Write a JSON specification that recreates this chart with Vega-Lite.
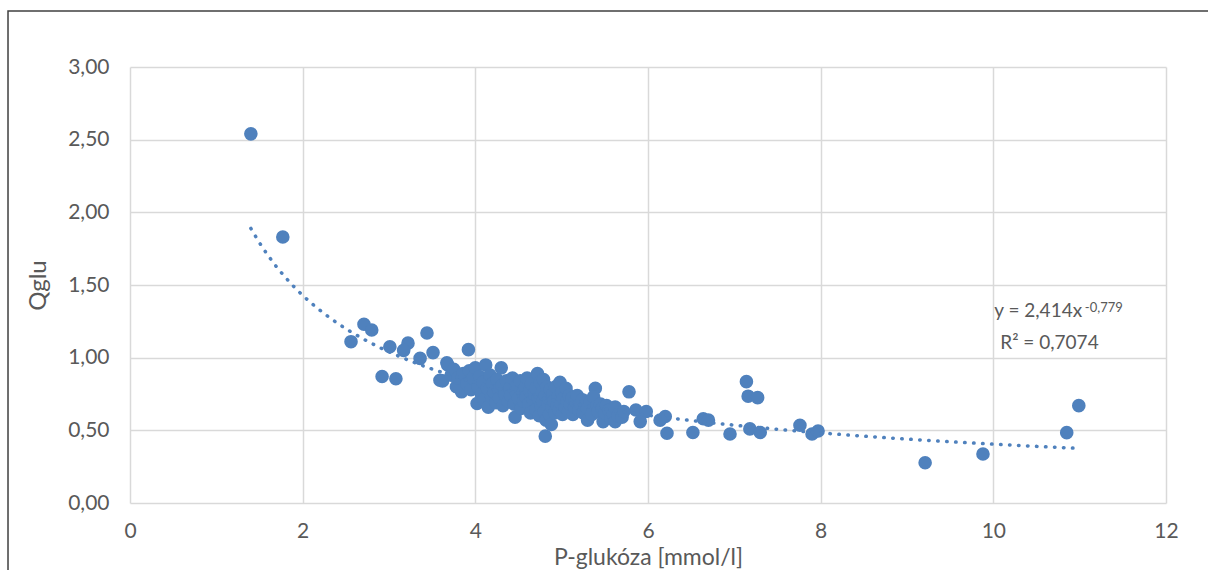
{
  "$schema": "https://vega.github.io/schema/vega-lite/v6.json",
  "width": 1036,
  "height": 436,
  "autosize": {"type": "none"},
  "padding": {"left": 130, "top": 67, "right": 42, "bottom": 67},
  "background": "white",
  "config": {
    "font": "Lato",
    "view": {"stroke": null},
    "axis": {"labelFont": "Lato", "titleFont": "Lato", "labelColor": "#595959", "titleColor": "#595959", "titleFontWeight": "normal", "gridColor": "#d9d9d9", "gridWidth": 1.5, "domain": false, "ticks": false}
  },
  "datasets": {
    "pts": [
      {"glukoza": 1.40, "qglu": 2.54}, {"glukoza": 1.77, "qglu": 1.83}, {"glukoza": 2.56, "qglu": 1.11}, {"glukoza": 2.71, "qglu": 1.23},
      {"glukoza": 2.80, "qglu": 1.19}, {"glukoza": 2.92, "qglu": 0.87}, {"glukoza": 3.08, "qglu": 0.855}, {"glukoza": 3.01, "qglu": 1.075},
      {"glukoza": 3.22, "qglu": 1.10}, {"glukoza": 3.17, "qglu": 1.05}, {"glukoza": 3.44, "qglu": 1.17}, {"glukoza": 3.36, "qglu": 0.995},
      {"glukoza": 3.51, "qglu": 1.035}, {"glukoza": 3.92, "qglu": 1.055}, {"glukoza": 3.67, "qglu": 0.965}, {"glukoza": 3.59, "qglu": 0.845},
      {"glukoza": 3.84, "qglu": 0.765}, {"glukoza": 4.02, "qglu": 0.685}, {"glukoza": 4.46, "qglu": 0.59}, {"glukoza": 4.81, "qglu": 0.46},
      {"glukoza": 5.78, "qglu": 0.765}, {"glukoza": 5.86, "qglu": 0.64}, {"glukoza": 5.98, "qglu": 0.63}, {"glukoza": 5.91, "qglu": 0.56},
      {"glukoza": 6.20, "qglu": 0.595}, {"glukoza": 6.14, "qglu": 0.57}, {"glukoza": 6.22, "qglu": 0.48}, {"glukoza": 6.52, "qglu": 0.485},
      {"glukoza": 6.64, "qglu": 0.58}, {"glukoza": 6.70, "qglu": 0.57}, {"glukoza": 6.95, "qglu": 0.475}, {"glukoza": 7.14, "qglu": 0.835},
      {"glukoza": 7.16, "qglu": 0.735}, {"glukoza": 7.27, "qglu": 0.725}, {"glukoza": 7.18, "qglu": 0.51}, {"glukoza": 7.30, "qglu": 0.485},
      {"glukoza": 7.76, "qglu": 0.535}, {"glukoza": 7.90, "qglu": 0.475}, {"glukoza": 7.97, "qglu": 0.495}, {"glukoza": 9.21, "qglu": 0.277},
      {"glukoza": 9.88, "qglu": 0.337}, {"glukoza": 10.85, "qglu": 0.484}, {"glukoza": 10.99, "qglu": 0.67}, {"glukoza": 5.39, "qglu": 0.79},
      {"glukoza": 3.62, "qglu": 0.84}, {"glukoza": 3.68, "qglu": 0.95}, {"glukoza": 3.72, "qglu": 0.88}, {"glukoza": 3.75, "qglu": 0.92},
      {"glukoza": 3.78, "qglu": 0.80}, {"glukoza": 3.80, "qglu": 0.86}, {"glukoza": 3.86, "qglu": 0.89}, {"glukoza": 3.90, "qglu": 0.82},
      {"glukoza": 3.93, "qglu": 0.91}, {"glukoza": 3.95, "qglu": 0.78}, {"glukoza": 3.97, "qglu": 0.86}, {"glukoza": 4.00, "qglu": 0.93},
      {"glukoza": 4.03, "qglu": 0.80}, {"glukoza": 4.05, "qglu": 0.87}, {"glukoza": 4.07, "qglu": 0.75}, {"glukoza": 4.09, "qglu": 0.83},
      {"glukoza": 4.10, "qglu": 0.71}, {"glukoza": 4.12, "qglu": 0.95}, {"glukoza": 4.14, "qglu": 0.79}, {"glukoza": 4.15, "qglu": 0.66},
      {"glukoza": 4.17, "qglu": 0.88}, {"glukoza": 4.19, "qglu": 0.73}, {"glukoza": 4.20, "qglu": 0.82}, {"glukoza": 4.22, "qglu": 0.76},
      {"glukoza": 4.24, "qglu": 0.69}, {"glukoza": 4.25, "qglu": 0.85}, {"glukoza": 4.27, "qglu": 0.78}, {"glukoza": 4.28, "qglu": 0.72},
      {"glukoza": 4.30, "qglu": 0.93}, {"glukoza": 4.31, "qglu": 0.81}, {"glukoza": 4.32, "qglu": 0.67}, {"glukoza": 4.34, "qglu": 0.75},
      {"glukoza": 4.36, "qglu": 0.84}, {"glukoza": 4.38, "qglu": 0.70}, {"glukoza": 4.40, "qglu": 0.79}, {"glukoza": 4.41, "qglu": 0.74},
      {"glukoza": 4.43, "qglu": 0.86}, {"glukoza": 4.45, "qglu": 0.68}, {"glukoza": 4.47, "qglu": 0.77}, {"glukoza": 4.49, "qglu": 0.81},
      {"glukoza": 4.50, "qglu": 0.72}, {"glukoza": 4.52, "qglu": 0.84}, {"glukoza": 4.53, "qglu": 0.65}, {"glukoza": 4.55, "qglu": 0.76},
      {"glukoza": 4.56, "qglu": 0.70}, {"glukoza": 4.58, "qglu": 0.80}, {"glukoza": 4.59, "qglu": 0.73}, {"glukoza": 4.60, "qglu": 0.86},
      {"glukoza": 4.62, "qglu": 0.68}, {"glukoza": 4.63, "qglu": 0.77}, {"glukoza": 4.64, "qglu": 0.62}, {"glukoza": 4.65, "qglu": 0.82},
      {"glukoza": 4.67, "qglu": 0.71}, {"glukoza": 4.68, "qglu": 0.75}, {"glukoza": 4.70, "qglu": 0.79}, {"glukoza": 4.70, "qglu": 0.64},
      {"glukoza": 4.72, "qglu": 0.89}, {"glukoza": 4.73, "qglu": 0.72}, {"glukoza": 4.74, "qglu": 0.60}, {"glukoza": 4.75, "qglu": 0.83},
      {"glukoza": 4.76, "qglu": 0.67}, {"glukoza": 4.77, "qglu": 0.76}, {"glukoza": 4.78, "qglu": 0.70}, {"glukoza": 4.79, "qglu": 0.85},
      {"glukoza": 4.80, "qglu": 0.63}, {"glukoza": 4.81, "qglu": 0.74}, {"glukoza": 4.82, "qglu": 0.57}, {"glukoza": 4.83, "qglu": 0.80},
      {"glukoza": 4.84, "qglu": 0.68}, {"glukoza": 4.85, "qglu": 0.72}, {"glukoza": 4.86, "qglu": 0.61}, {"glukoza": 4.87, "qglu": 0.78},
      {"glukoza": 4.88, "qglu": 0.54}, {"glukoza": 4.89, "qglu": 0.66}, {"glukoza": 4.90, "qglu": 0.75}, {"glukoza": 4.91, "qglu": 0.70},
      {"glukoza": 4.92, "qglu": 0.62}, {"glukoza": 4.93, "qglu": 0.80}, {"glukoza": 4.95, "qglu": 0.67}, {"glukoza": 4.96, "qglu": 0.73},
      {"glukoza": 4.97, "qglu": 0.64}, {"glukoza": 4.98, "qglu": 0.83}, {"glukoza": 4.99, "qglu": 0.69}, {"glukoza": 5.00, "qglu": 0.76},
      {"glukoza": 5.01, "qglu": 0.61}, {"glukoza": 5.02, "qglu": 0.72}, {"glukoza": 5.04, "qglu": 0.66}, {"glukoza": 5.05, "qglu": 0.79},
      {"glukoza": 5.06, "qglu": 0.70}, {"glukoza": 5.08, "qglu": 0.63}, {"glukoza": 5.09, "qglu": 0.74}, {"glukoza": 5.10, "qglu": 0.68},
      {"glukoza": 5.12, "qglu": 0.72}, {"glukoza": 5.13, "qglu": 0.61}, {"glukoza": 5.15, "qglu": 0.66}, {"glukoza": 5.16, "qglu": 0.70},
      {"glukoza": 5.18, "qglu": 0.74}, {"glukoza": 5.20, "qglu": 0.64}, {"glukoza": 5.22, "qglu": 0.68}, {"glukoza": 5.24, "qglu": 0.71},
      {"glukoza": 5.25, "qglu": 0.62}, {"glukoza": 5.27, "qglu": 0.67}, {"glukoza": 5.29, "qglu": 0.70}, {"glukoza": 5.30, "qglu": 0.65},
      {"glukoza": 5.30, "qglu": 0.57}, {"glukoza": 5.33, "qglu": 0.69}, {"glukoza": 5.35, "qglu": 0.61}, {"glukoza": 5.37, "qglu": 0.73},
      {"glukoza": 5.40, "qglu": 0.66}, {"glukoza": 5.42, "qglu": 0.63}, {"glukoza": 5.45, "qglu": 0.68}, {"glukoza": 5.47, "qglu": 0.65},
      {"glukoza": 5.48, "qglu": 0.56}, {"glukoza": 5.50, "qglu": 0.62}, {"glukoza": 5.52, "qglu": 0.67}, {"glukoza": 5.55, "qglu": 0.64},
      {"glukoza": 5.57, "qglu": 0.58}, {"glukoza": 5.60, "qglu": 0.61}, {"glukoza": 5.62, "qglu": 0.56}, {"glukoza": 5.62, "qglu": 0.66},
      {"glukoza": 5.65, "qglu": 0.60}, {"glukoza": 5.70, "qglu": 0.59}, {"glukoza": 5.72, "qglu": 0.63}
    ],
    "labels": [
      {"t": "y = 2,414x", "gx": 10.01, "qy": 1.318, "kind": "main"},
      {"t": "R² = 0,7074", "gx": 10.08, "qy": 1.098, "kind": "main"},
      {"t": "-0,779", "gx": 11.06, "qy": 1.345, "kind": "sup"}
    ]
  },
  "layer": [
    {
      "data": {"name": "pts"},
      "mark": {"type": "circle", "color": "#4f81bd", "opacity": 1, "size": 185},
      "encoding": {
        "x": {"field": "glukoza", "type": "quantitative", "scale": {"domain": [0, 12], "nice": false, "zero": false},
          "axis": {"values": [0, 2, 4, 6, 8, 10, 12], "format": "d", "labelFontSize": 21, "labelPadding": 17, "title": "P-glukóza [mmol/l]", "titleFontSize": 23, "titlePadding": 5, "labelFlush": false}},
        "y": {"field": "qglu", "type": "quantitative", "scale": {"domain": [0, 3], "nice": false, "zero": false},
          "axis": {"values": [0, 0.5, 1, 1.5, 2, 2.5, 3], "labelExpr": "replace(format(datum.value, '.2f'), '.', ',')", "labelFontSize": 21, "labelPadding": 21, "title": "Qglu", "titleFontSize": 24, "titlePadding": 17}}
      }
    },
    {
      "data": {"name": "pts"},
      "transform": [{"regression": "qglu", "on": "glukoza", "method": "pow"}],
      "mark": {"type": "line", "color": "#4f81bd", "strokeWidth": 3.5, "strokeCap": "round", "strokeDash": [0.5, 8.5]},
      "encoding": {
        "x": {"field": "glukoza", "type": "quantitative", "scale": {"domain": [0, 12], "nice": false, "zero": false}},
        "y": {"field": "qglu", "type": "quantitative", "scale": {"domain": [0, 3], "nice": false, "zero": false}}
      }
    },
    {
      "data": {"name": "labels"},
      "transform": [{"filter": "datum.kind == 'main'"}],
      "mark": {"type": "text", "align": "left", "baseline": "middle", "fontSize": 19, "color": "#595959", "font": "Lato"},
      "encoding": {
        "x": {"field": "gx", "type": "quantitative", "scale": {"domain": [0, 12], "nice": false, "zero": false}},
        "y": {"field": "qy", "type": "quantitative", "scale": {"domain": [0, 3], "nice": false, "zero": false}},
        "text": {"field": "t"}
      }
    },
    {
      "data": {"name": "labels"},
      "transform": [{"filter": "datum.kind == 'sup'"}],
      "mark": {"type": "text", "align": "left", "baseline": "middle", "fontSize": 13, "color": "#595959", "font": "Lato"},
      "encoding": {
        "x": {"field": "gx", "type": "quantitative", "scale": {"domain": [0, 12], "nice": false, "zero": false}},
        "y": {"field": "qy", "type": "quantitative", "scale": {"domain": [0, 3], "nice": false, "zero": false}},
        "text": {"field": "t"}
      }
    },
    {
      "data": {"values": [{}]},
      "mark": {"type": "rect", "fill": null, "stroke": "#404040", "strokeWidth": 1.5, "clip": false},
      "encoding": {
        "x": {"datum": -1.413, "type": "quantitative", "scale": {"domain": [0, 12], "nice": false, "zero": false}},
        "x2": {"datum": 12.6},
        "y": {"datum": 3.385, "type": "quantitative", "scale": {"domain": [0, 3], "nice": false, "zero": false}},
        "y2": {"datum": -0.6}
      }
    }
  ]
}
